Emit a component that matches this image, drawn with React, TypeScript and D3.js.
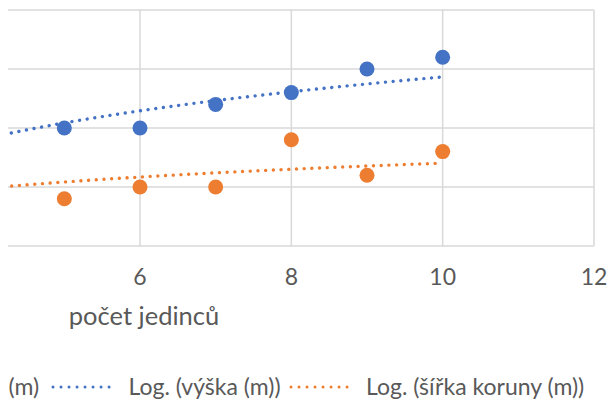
import React from "react";
import * as d3 from "d3";

// ---- data ----
const xTicks = [4, 6, 8, 10, 12];
const yTicks = [0, 2, 4, 6, 8];
const xValues = [5, 6, 7, 8, 9, 10];
const vyskaValues = [4, 4, 4.8, 5.2, 6, 6.4];
const sirkaValues = [1.6, 2, 2, 3.6, 2.4, 3.2];
// logarithmic trendline coefficients y = a*ln(x) + b
const trendA = [2.25, 0.92];
const trendB = [0.55, 0.69];
const trendFrom = 4;
const trendTo = 10;
// visible tail of the cut-off legend entry "šířka koruny (m)"
const legendCutLabel = "(m)";
const trendNames = ["Log. (výška (m))", "Log. (šířka koruny (m))"];
const colors = ["#4472C4", "#ED7D31"];

// ---- layout ----
const W = 608;
const H = 403;
const plotLeft = 8;
const plotRight = 594;
const plotTop = 10;
const plotBottom = 246;
const FONT = "Lato, 'Open Sans', sans-serif";
const TEXT = "#595959";
const GRID = "#D9D9D9";

export default function App() {
  const x = d3.scaleLinear().domain([6, 12]).range([140, 594]);
  const y = d3.scaleLinear().domain([0, 8]).range([plotBottom, plotTop]);

  const series = [vyskaValues, sirkaValues];
  const trendXs = d3.range(trendFrom * 20, trendTo * 20 + 1).map((i) => i / 20);
  const trendLine = (k: number) =>
    d3
      .line<number>()
      .x((v) => x(v))
      .y((v) => y(trendA[k] * Math.log(v) + trendB[k]))(trendXs) || "";

  const dotted = { strokeDasharray: "0.01 7.7", strokeLinecap: "round" as const };
  const visibleX = xTicks.filter((t) => x(t) >= plotLeft && x(t) <= plotRight + 1);

  return (
    <svg
      width={W}
      height={H}
      style={{ position: "absolute", left: 0, top: 0, background: "#fff" }}
      fontFamily={FONT}
    >
      <defs>
        <clipPath id="plotClip">
          <rect x={plotLeft} y={plotTop - 2} width={plotRight - plotLeft} height={plotBottom - plotTop + 4} />
        </clipPath>
      </defs>
      {/* horizontal gridlines */}
      {yTicks.map((t) => (
        <line key={"h" + t} x1={plotLeft} x2={plotRight} y1={y(t)} y2={y(t)} stroke={GRID} strokeWidth={1.5} />
      ))}
      {/* vertical gridlines */}
      {visibleX.map((t) => (
        <line key={"v" + t} x1={x(t)} x2={x(t)} y1={plotTop} y2={plotBottom} stroke={GRID} strokeWidth={1.5} />
      ))}
      {/* tick labels */}
      {visibleX.map((t) => (
        <text key={"t" + t} x={x(t)} y={285} textAnchor="middle" fontSize={23} fill={TEXT}>
          {t}
        </text>
      ))}
      <text x={144} y={325} textAnchor="middle" fontSize={25.5} fill={TEXT}>
        počet jedinců
      </text>
      <g clipPath="url(#plotClip)">
        {trendA.map((_, k) => (
          <path key={"tr" + k} d={trendLine(k)} fill="none" stroke={colors[k]} strokeWidth={3.4} {...dotted} />
        ))}
        {series.map((vals, k) =>
          vals.map((v, i) => (
            <circle key={k + "-" + i} cx={x(xValues[i])} cy={y(v)} r={7.5} fill={colors[k]} />
          ))
        )}
      </g>
      {/* legend */}
      <g fontSize={23} fill={TEXT}>
        <text x={8.5} y={395}>
          {legendCutLabel}
        </text>
        <line x1={53} x2={117} y1={387} y2={387} stroke={colors[0]} strokeWidth={3} strokeDasharray="0.01 8" strokeLinecap="round" />
        <text x={128.5} y={395}>{trendNames[0]}</text>
        <line x1={291} x2={355} y1={387} y2={387} stroke={colors[1]} strokeWidth={3} strokeDasharray="0.01 8" strokeLinecap="round" />
        <text x={366} y={395}>{trendNames[1]}</text>
      </g>
    </svg>
  );
}
